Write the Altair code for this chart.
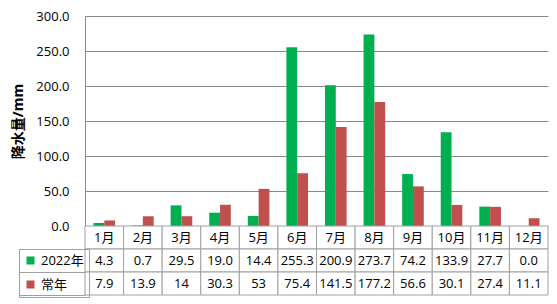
import altair as alt
import pandas as pd

months = ["1月", "2月", "3月", "4月", "5月", "6月", "7月", "8月", "9月", "10月", "11月", "12月"]
series = ["2022年", "常年"]
rain_2022 = [4.3, 0.7, 29.5, 19.0, 14.4, 255.3, 200.9, 273.7, 74.2, 133.9, 27.7, 0.0]
rain_normal = [7.9, 13.9, 14, 30.3, 53, 75.4, 141.5, 177.2, 56.6, 30.1, 27.4, 11.1]
colors = ["#00B050", "#C0504D"]
y_ticks = [0, 50, 100, 150, 200, 250, 300]
month_row = "月份"
row_order = [month_row] + series

FONT = "Open Sans, Noto Sans CJK SC"
GRID = "#8A8A8A"
LINE = "#A0A0A0"
W = 463
HB = 210
RH = 23

bars_df = pd.DataFrame({
    "month": months * 2,
    "series": [series[0]] * 12 + [series[1]] * 12,
    "value": rain_2022 + rain_normal,
})

rows = []
for m in months:
    rows.append({"month": m, "row": month_row, "text": m})
for m, v in zip(months, rain_2022):
    rows.append({"month": m, "row": series[0], "text": f"{v:.1f}"})
for m, v in zip(months, rain_normal):
    rows.append({"month": m, "row": series[1], "text": str(v)})
table_df = pd.DataFrame(rows)

bars = alt.Chart(bars_df).mark_bar().encode(
    x=alt.X("month:N", sort=months, axis=None,
            scale=alt.Scale(paddingInner=0.44, paddingOuter=0.22)),
    xOffset=alt.XOffset("series:N", sort=series),
    y=alt.Y("value:Q", scale=alt.Scale(domain=[0, 300], nice=False),
            axis=alt.Axis(values=y_ticks, format=".1f", title="降水量/mm",
                          ticks=False, labelPadding=16, titlePadding=10,
                          labelFont=FONT, labelFontSize=13, labelColor="black",
                          titleFont=FONT, titleFontSize=14, titleFontWeight="bold",
                          titleColor="black", domainColor=GRID, gridColor=GRID)),
    color=alt.Color("series:N", sort=series,
                    scale=alt.Scale(domain=series, range=colors),
                    legend=alt.Legend(orient="none", legendX=-66, legendY=233,
                                      direction="vertical", title=None,
                                      symbolType="square", symbolSize=64,
                                      symbolStrokeWidth=0, labelFont=FONT,
                                      labelFontSize=13, labelColor="black",
                                      labelOffset=4, rowPadding=10, padding=5,
                                      strokeColor=LINE)),
).properties(width=W, height=HB)

base = alt.Chart(table_df).encode(
    x=alt.X("month:N", sort=months, axis=None,
            scale=alt.Scale(paddingInner=0, paddingOuter=0)),
    y=alt.Y("row:N", sort=row_order,
            scale=alt.Scale(paddingInner=0, paddingOuter=0),
            axis=alt.Axis(values=series, labels=False, domain=False, grid=False,
                          ticks=True, tickBand="extent", tickSize=66,
                          tickColor=LINE, title=None)),
)
cells = base.mark_rect(fill="white", stroke=LINE, strokeWidth=1)
texts = base.mark_text(font=FONT, fontSize=13, color="black").encode(text="text:N")
table = alt.layer(cells, texts).properties(width=W, height=3 * RH)

chart = alt.vconcat(bars, table, spacing=0, bounds="flush").properties(
    padding={"left": 3, "top": 2, "right": 0, "bottom": 0}
).configure_view(stroke=None)

chart.save("out.html", embed_options={"renderer": "svg", "actions": False})
